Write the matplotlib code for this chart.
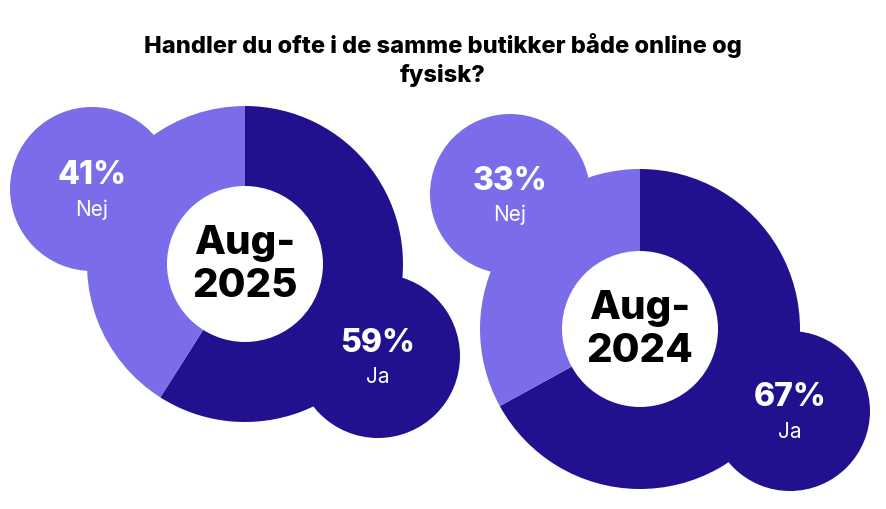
import matplotlib
matplotlib.use("Agg")
import matplotlib.pyplot as plt
from matplotlib.patches import Wedge, Circle

title = "Handler du ofte i de samme butikker både online og\nfysisk?"
periods = ["Aug-\n2025", "Aug-\n2024"]
ja = [59, 67]
nej = [41, 33]
labels = ["Ja", "Nej"]

DARK = "#21118f"
LIGHT = "#7b6de9"
H = 510
fig = plt.figure(figsize=(8.86, 5.10), dpi=100)
ax = fig.add_axes([0, 0, 1, 1])
ax.set_xlim(0, 886); ax.set_ylim(0, H); ax.axis("off")

layout = [
    dict(c=(245, 265), R=158, r=78, nej=(92, 190), jac=(378, 357), cr=82),
    dict(c=(640, 330), R=160, r=78, nej=(510, 195), jac=(790, 412), cr=80),
]
font = "Inter"
for i, L in enumerate(layout):
    cx, cy = L["c"][0], H - L["c"][1]
    nx, ny = L["nej"][0], H - L["nej"][1]
    jx, jy = L["jac"][0], H - L["jac"][1]
    ax.add_patch(Circle((nx, ny), L["cr"], color=LIGHT, lw=0))
    ax.add_patch(Circle((jx, jy), L["cr"], color=DARK, lw=0))
    tot = ja[i] + nej[i]
    a = 360 * ja[i] / tot
    ax.add_patch(Wedge((cx, cy), L["R"], 90 - a, 90, color=DARK, lw=0))
    ax.add_patch(Wedge((cx, cy), L["R"], 90, 90 + 360 - a, color=LIGHT, lw=0))
    ax.add_patch(Circle((cx, cy), L["r"], color="white", lw=0))
    ax.text(cx, cy, periods[i], ha="center", va="center", fontsize=29, fontweight="heavy",
            family=font, linespacing=1.2)
    ax.text(nx, ny + 14, f"{nej[i]}%", ha="center", va="center", color="white", fontsize=23,
            fontweight="heavy", family=font)
    ax.text(nx, ny - 20, labels[1], ha="center", va="center", color="white", fontsize=15, family=font)
    ax.text(jx, jy + 14, f"{ja[i]}%", ha="center", va="center", color="white", fontsize=23,
            fontweight="heavy", family=font)
    ax.text(jx, jy - 20, labels[0], ha="center", va="center", color="white", fontsize=15, family=font)

ax.text(443, H - 60, title, ha="center", va="center", fontsize=17, fontweight="heavy",
        family=font, linespacing=1.35)
fig.savefig("out.png", dpi=100)
